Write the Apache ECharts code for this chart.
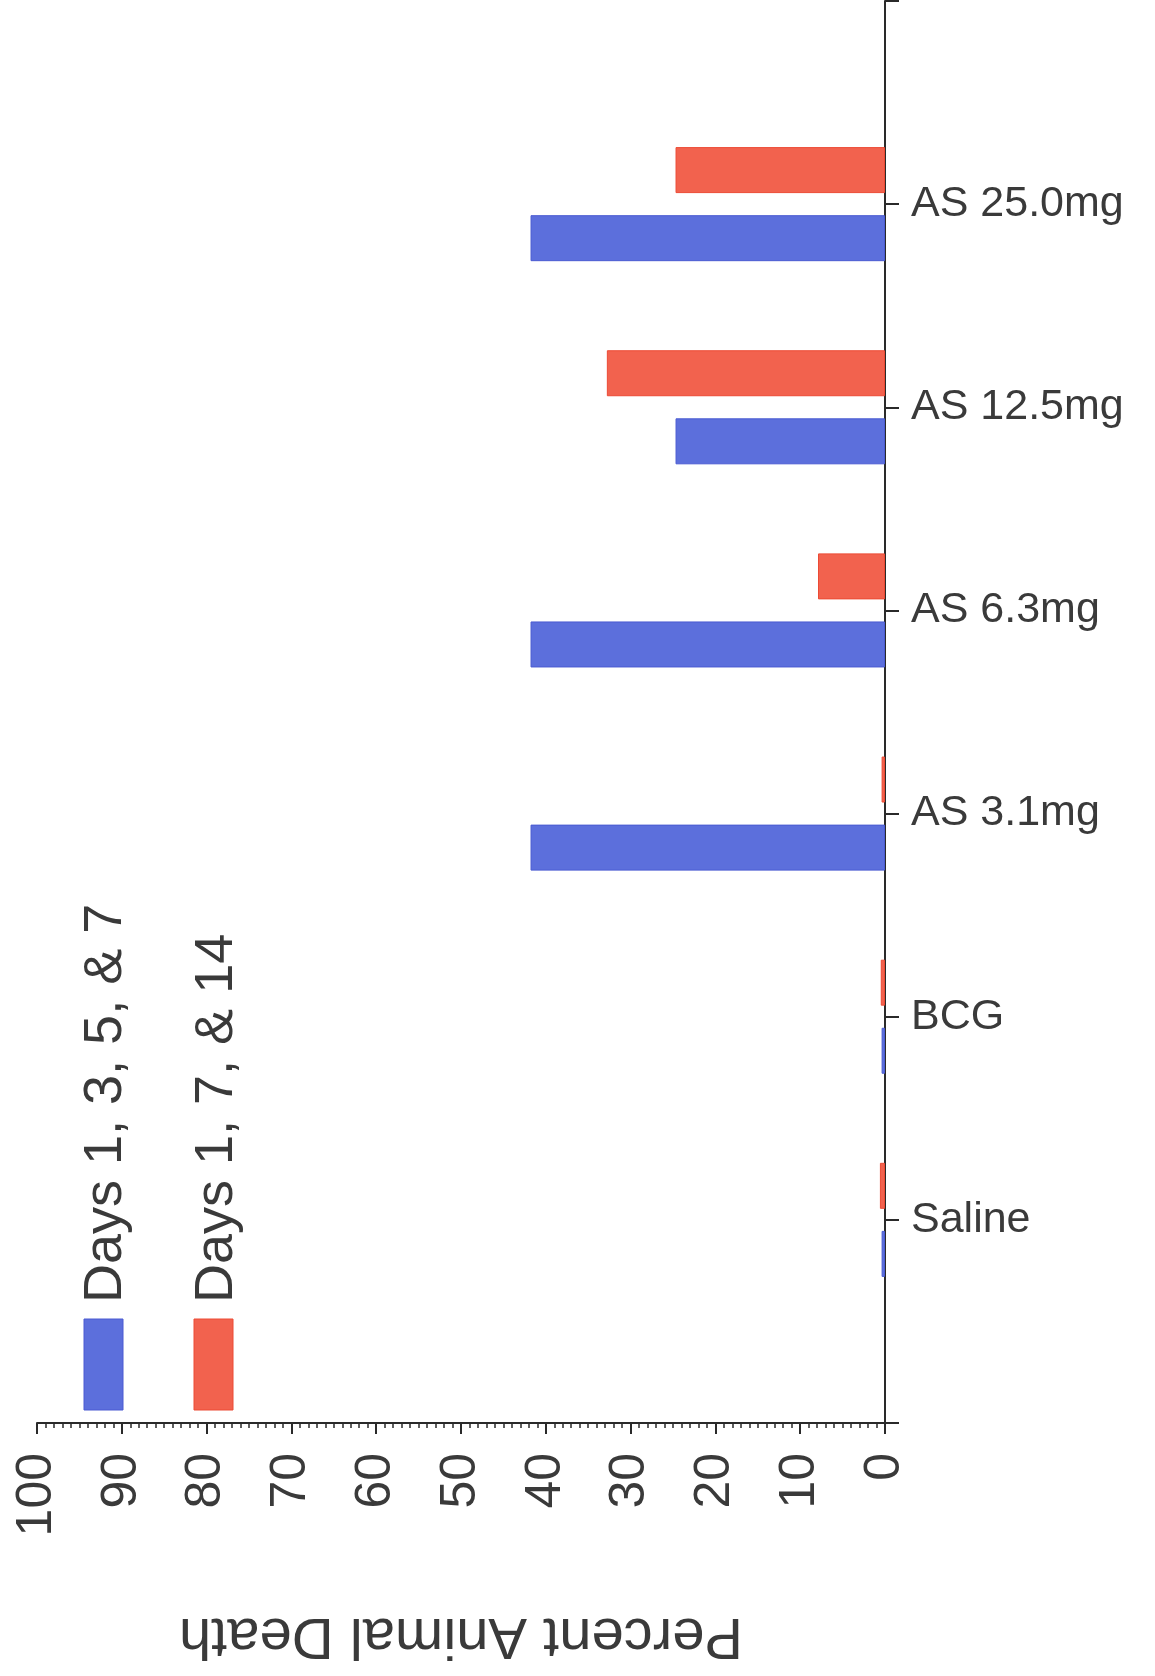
<!DOCTYPE html>
<html>
<head>
<meta charset="utf-8">
<script src="https://cdn.jsdelivr.net/npm/echarts@6/dist/echarts.min.js"></script>
<style>
  html, body { margin: 0; padding: 0; background: #ffffff; }
  #chart { width: 1155px; height: 1676px; }
</style>
</head>
<body>
<div id="chart"></div>
<script>
// ---- data ----
const categories = ['Saline', 'BCG', 'AS 3.1mg', 'AS 6.3mg', 'AS 12.5mg', 'AS 25.0mg'];
const seriesNames = ['Days 1, 3, 5, & 7', 'Days 1, 7, & 14'];
const days1357 = [0.4, 0.4, 41.8, 41.8, 24.7, 41.8];
const days1714 = [0.6, 0.5, 0.4, 7.9, 32.8, 24.7];
const axisTitle = 'Percent Animal Death';

// ---- styling ----
const BLUE = '#5c6fdc';
const RED = '#f2624e';
const INK = '#2a2a2a';
const FONT = 'Liberation Sans';
const TXT = '#3a3a3a';

// pad with empty end slots so the axis spans one extra slot at each end
const axisCats = [''].concat(categories, ['']);
const pad = arr => [null].concat(arr, [null]);

const chart = echarts.init(document.getElementById('chart'), null, { renderer: 'canvas' });

const option = {
  backgroundColor: '#ffffff',
  animation: false,
  grid: { left: 37, right: 270, top: 1, bottom: 253, containLabel: false },
  xAxis: {
    type: 'value',
    min: 0, max: 100, interval: 10,
    inverse: true,
    position: 'bottom',
    axisLine: { show: true, lineStyle: { color: INK, width: 2 } },
    axisTick: { show: true, length: 11, lineStyle: { color: INK, width: 2 } },
    minorTick: { show: true, splitNumber: 10, length: 5, lineStyle: { color: INK, width: 1.5 } },
    splitLine: { show: false },
    axisLabel: { rotate: 90, margin: 30, fontSize: 50, fontFamily: FONT, color: TXT },
    name: axisTitle,
    nameLocation: 'middle',
    nameRotate: 180,
    nameGap: 183,
    nameTextStyle: { fontSize: 58, fontFamily: FONT, color: TXT }
  },
  yAxis: {
    type: 'category',
    data: axisCats,
    boundaryGap: false,
    position: 'right',
    axisLine: { show: true, lineStyle: { color: INK, width: 2 } },
    axisTick: { show: true, length: 14, interval: 0, lineStyle: { color: INK, width: 2 } },
    axisLabel: { margin: 26, interval: 0, fontSize: 43, fontFamily: FONT, color: TXT },
    splitLine: { show: false }
  },
  series: [
    {
      name: seriesNames[1], type: 'bar', data: pad(days1714),
      barWidth: 46, barGap: '48%',
      itemStyle: { color: RED, borderColor: '#ec4a34', borderWidth: 1 }
    },
    {
      name: seriesNames[0], type: 'bar', data: pad(days1357),
      barWidth: 46, barGap: '48%',
      itemStyle: { color: BLUE, borderColor: '#4a5bd2', borderWidth: 1 }
    }
  ],
  graphic: [
    { type: 'rect', shape: { x: 84, y: 1319, width: 39, height: 91 }, style: { fill: BLUE, stroke: '#4a5bd2', lineWidth: 1 } },
    { type: 'rect', shape: { x: 194, y: 1319, width: 39, height: 91 }, style: { fill: RED, stroke: '#ec4a34', lineWidth: 1 } },
    { type: 'text', x: 106, y: 1303, rotation: Math.PI / 2,
      style: { text: seriesNames[0], fontSize: 54, fontFamily: FONT, fill: TXT, align: 'left', verticalAlign: 'middle' } },
    { type: 'text', x: 217, y: 1303, rotation: Math.PI / 2,
      style: { text: seriesNames[1], fontSize: 54, fontFamily: FONT, fill: TXT, align: 'left', verticalAlign: 'middle' } }
  ]
};

chart.setOption(option);
</script>
</body>
</html>
